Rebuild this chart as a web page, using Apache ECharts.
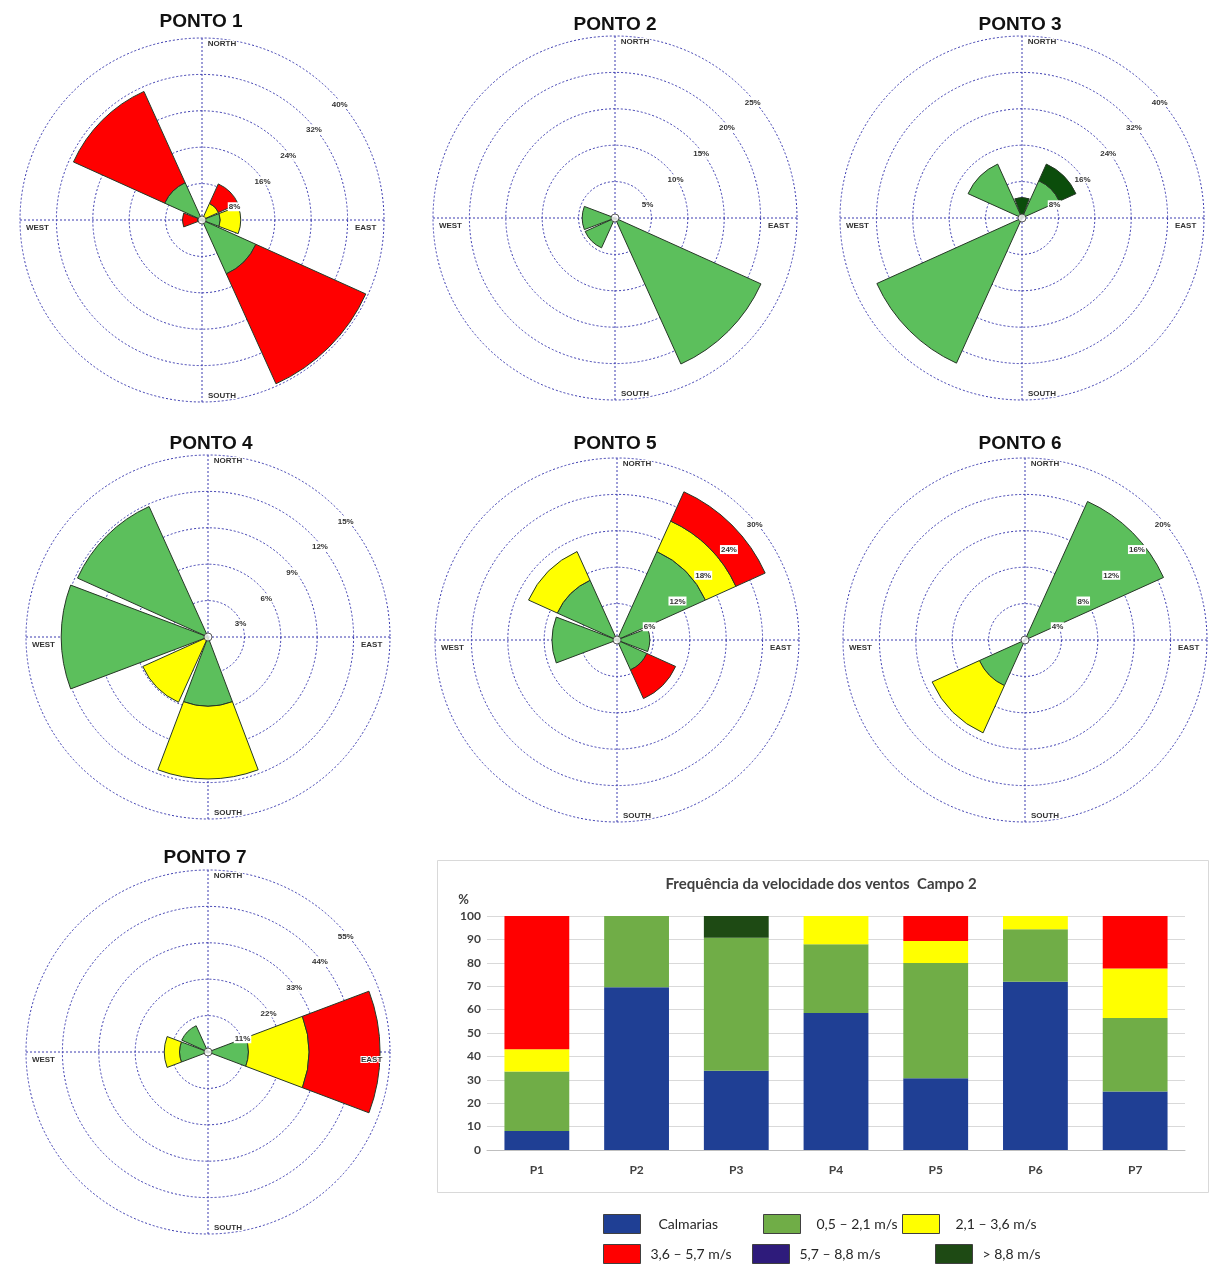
<!DOCTYPE html>
<html>
<head>
<meta charset="utf-8">
<script src="https://cdn.jsdelivr.net/npm/echarts@6/dist/echarts.min.js"></script>
<style>
  html, body { margin: 0; padding: 0; background: #fff; }
  #chart { width: 1214px; height: 1269px; }
</style>
</head>
<body>
<div id="chart"></div>
<script>
// wind directions, clockwise from north
const directions = ['N', 'NE', 'E', 'SE', 'S', 'SW', 'W', 'NW']

// rose values (% of time) per direction, one array per speed class
const p1Green = [0, 0, 4, 13, 0, 0, 1, 9]
const p1Yellow = [0, 4, 4.5, 0, 0, 0, 0, 0]
const p1Red = [0, 4.7, 0, 26.5, 0, 0, 3.3, 22]

const p2Green = [0, 0, 0, 22, 0, 4.5, 4.5, 0]

const p3Green = [0, 9, 0, 0, 0, 35, 0, 13]
const p3DarkGreen = [4.5, 4, 0, 0, 0, 0, 0, 0]

const p4Green = [0, 0, 0, 0, 5.7, 0, 12.1, 11.8]
const p4Yellow = [0, 0, 0, 0, 6, 5.9, 0, 0]

const p5Green = [0, 16, 5.4, 5.4, 0, 0, 10.7, 10.8]
const p5Yellow = [0, 5.5, 0, 0, 0, 0, 0, 5.2]
const p5Red = [0, 5.3, 0, 5.2, 0, 0, 0, 0]

const p6Green = [0, 16.7, 0, 0, 0, 5.5, 0, 0]
const p6Yellow = [0, 0, 0, 0, 0, 5.7, 0, 0]

const p7Green = [0, 0, 12.2, 0, 0, 0, 8.6, 8.7]
const p7Yellow = [0, 0, 18.3, 0, 0, 0, 4.6, 0]
const p7Red = [0, 0, 21.5, 0, 0, 0, 0, 0]

const roseTitles = ['PONTO 1', 'PONTO 2', 'PONTO 3', 'PONTO 4', 'PONTO 5', 'PONTO 6', 'PONTO 7']
const roseMax = [40, 25, 40, 15, 30, 20, 55]

// bar chart: frequency of each class per point
const points = ['P1', 'P2', 'P3', 'P4', 'P5', 'P6', 'P7']
const calmarias = [8.1, 69.6, 33.9, 58.6, 30.7, 71.9, 25]
const speed05 = [25.5, 30.4, 56.8, 29.3, 49.2, 22.4, 31.4]
const speed21 = [9.5, 0, 0, 12.1, 9.4, 5.7, 21.2]
const speed36 = [56.9, 0, 0, 0, 10.7, 0, 22.4]
const speed57 = [0, 0, 0, 0, 0, 0, 0]
const speed88 = [0, 0, 9.3, 0, 0, 0, 0]
const classNames = ['Calmarias', '0,5 – 2,1 m/s', '2,1 – 3,6 m/s', '3,6 – 5,7 m/s', '5,7 – 8,8 m/s', '> 8,8 m/s']

// rose classes: green, yellow, red, purple, dark green
const roseData = [
	[p1Green, p1Yellow, p1Red, null, null],
	[p2Green, null, null, null, null],
	[p3Green, null, null, null, p3DarkGreen],
	[p4Green, p4Yellow, null, null, null],
	[p5Green, p5Yellow, p5Red, null, null],
	[p6Green, p6Yellow, null, null, null],
	[p7Green, p7Yellow, p7Red, null, null],
]

const roseColors = ['#5CBF5C', '#FFFF00', '#FF0000', '#2E1B7B', '#0B4D0B']
const barColors = ['#1F3F94', '#70AD47', '#FFFF00', '#FF0000', '#2E1B7B', '#1E4A14']

// layout
const ROSE_R = 182
const roseCenters = [[202, 220], [615, 218], [1022, 218], [208, 637], [617, 640], [1025, 640], [208, 1052]]
const titleSpots = [[201, 22], [615, 25], [1020, 25], [211, 444], [615, 444], [1020, 444], [205, 858]]
const legendSpots = [[603, 1214, 13], [763, 1214, 11], [902, 1214, 11], [603, 1244, 5], [752, 1244, 5], [935, 1244, 5]]

const gridLine = { color: '#3b3bb0', width: 1, type: [2, 2] }
const noLine = { show: false, lineStyle: { color: 'rgba(0,0,0,0)' } }
const smallFont = { fontSize: 8, fontWeight: 'bold', fontFamily: 'Liberation Sans', color: '#333' }
const halo = { textBorderColor: '#fff', textBorderWidth: 2 }

const dirLabel = { 45: '{e|EAST}', 135: '{s|SOUTH}', 225: '{w|WEST}', 315: '{n|NORTH}' }
const dirRich = {
	n: { ...smallFont, ...halo, padding: [0, 0, 19, 40] },
	s: { ...smallFont, ...halo, padding: [19, 0, 0, 40] },
	e: { ...smallFont, ...halo, padding: [16, 0, 0, 0] },
	w: { ...smallFont, ...halo, padding: [16, 0, 0, 0] },
}

function hiddenParts() {
	return {
		axisLine: noLine,
		axisTick: noLine,
		splitLine: noLine,
		minorTick: { show: false },
		minorSplitLine: { show: false },
		splitArea: { show: false },
	}
}

const polar = []
const angleAxis = []
const radiusAxis = []
const series = []
const graphic = []
const n = roseCenters.length

// polar 0..6: sectors and rings
roseCenters.forEach((c, i) => {
	polar.push({ center: c, radius: ROSE_R })
	angleAxis.push({
		...hiddenParts(),
		polarIndex: i,
		type: 'category',
		data: directions,
		boundaryGap: true,
		startAngle: 112.5,
		axisLabel: { show: false },
		z: 0,
	})
	radiusAxis.push({
		...hiddenParts(),
		polarIndex: i,
		type: 'value',
		min: 0,
		max: roseMax[i],
		interval: roseMax[i] / 5,
		axisLabel: { show: false },
		splitLine: { show: true, lineStyle: gridLine },
		z: 0,
	})
})

// polar 7..13: north-south / east-west cross under the sectors
roseCenters.forEach((c, i) => {
	polar.push({ center: c, radius: ROSE_R })
	angleAxis.push({
		...hiddenParts(),
		polarIndex: n + i,
		type: 'value',
		min: 0,
		max: 360,
		interval: 90,
		startAngle: 90,
		axisLabel: { show: false },
		splitLine: { show: true, lineStyle: gridLine },
		z: 0,
	})
	radiusAxis.push({
		...hiddenParts(),
		polarIndex: n + i,
		type: 'value',
		min: 0,
		max: roseMax[i],
		axisLabel: { show: false },
		z: 0,
	})
})

// polar 14..20: labels above the sectors
roseCenters.forEach((c, i) => {
	const idx = 2 * n + i
	polar.push({ center: c, radius: ROSE_R })
	angleAxis.push({
		...hiddenParts(),
		polarIndex: idx,
		type: 'value',
		min: 0,
		max: 360,
		interval: 45,
		startAngle: 45,
		axisLabel: {
			margin: -29,
			formatter: (v) => dirLabel[v] || '',
			rich: dirRich,
		},
		z: 10,
	})
	radiusAxis.push({
		...hiddenParts(),
		polarIndex: idx,
		type: 'value',
		min: 0,
		max: roseMax[i],
		interval: roseMax[i] / 5,
		axisLabel: {
			showMinLabel: false,
			margin: 0,
			align: 'left',
			verticalAlign: 'top',
			padding: [8, 0, 0, 0],
			formatter: (v) => '{a|' + v + '%}',
			rich: { a: { ...smallFont, backgroundColor: '#fff', padding: [1, 1, 0, 1] } },
		},
		z: 10,
	})
})

roseData.forEach((classes, i) => {
	classes.forEach((values, k) => {
		if (!values) return
		series.push({
			type: 'bar',
			name: 'rose' + i + '-' + k,
			coordinateSystem: 'polar',
			polarIndex: i,
			stack: 'rose' + i,
			barCategoryGap: '8%',
			data: values.map((v) => (v > 0 ? v : '-')),
			itemStyle: { color: roseColors[k], borderColor: '#263826', borderWidth: 1 },
			silent: true,
			z: 2,
		})
	})
	series.push({
		type: 'scatter',
		name: 'centro' + i,
		coordinateSystem: 'polar',
		polarIndex: i,
		data: [[0, 'N']],
		symbolSize: 8,
		itemStyle: { color: '#fff', borderColor: '#333', borderWidth: 1 },
		silent: true,
		z: 5,
	})
	graphic.push({
		type: 'text',
		x: titleSpots[i][0],
		y: titleSpots[i][1],
		style: {
			text: roseTitles[i],
			font: 'bold 19px "Liberation Sans"',
			fill: '#111',
			align: 'center',
			verticalAlign: 'middle',
		},
	})
})

// bar chart frame and title
graphic.push({
	type: 'rect',
	shape: { x: 437.5, y: 860.5, width: 771, height: 332 },
	style: { fill: 'none', stroke: '#d9d9d9', lineWidth: 1 },
	z: -1,
})
graphic.push({
	type: 'text',
	x: 821,
	y: 884,
	style: {
		text: 'Frequência da velocidade dos ventos  Campo 2',
		font: 'bold 15px Lato',
		fill: '#404040',
		align: 'center',
		verticalAlign: 'middle',
	},
})

const barValues = [calmarias, speed05, speed21, speed36, speed57, speed88]
barValues.forEach((values, k) => {
	series.push({
		type: 'bar',
		name: classNames[k],
		stack: 'total',
		xAxisIndex: 0,
		yAxisIndex: 0,
		barCategoryGap: '35%',
		data: values,
		itemStyle: { color: barColors[k] },
		silent: true,
	})
})

const legend = classNames.map((name, k) => ({
	data: [name],
	left: legendSpots[k][0],
	top: legendSpots[k][1],
	padding: 0,
	itemWidth: 37,
	itemHeight: 19,
	icon: 'rect',
	selectedMode: false,
	itemStyle: { borderColor: '#404040', borderWidth: 1 },
	textStyle: {
		fontFamily: 'Lato',
		fontSize: 14,
		color: '#262626',
		padding: [0, 0, 0, legendSpots[k][2]],
	},
}))

const option = {
	animation: false,
	backgroundColor: '#fff',
	textStyle: { fontFamily: 'Liberation Sans' },
	polar: polar,
	angleAxis: angleAxis,
	radiusAxis: radiusAxis,
	grid: { left: 487, top: 916, width: 698, height: 234, outerBoundsMode: 'none' },
	xAxis: {
		type: 'category',
		data: points,
		axisLine: { lineStyle: { color: '#bfbfbf' } },
		axisTick: { show: false },
		axisLabel: { color: '#404040', fontWeight: 'bold', fontSize: 12, fontFamily: 'Lato', margin: 14 },
	},
	yAxis: {
		type: 'value',
		min: 0,
		max: 100,
		interval: 10,
		name: '%',
		nameLocation: 'end',
		nameGap: 10,
		nameTextStyle: { color: '#404040', fontWeight: 'bold', fontSize: 13, fontFamily: 'Lato', align: 'right', padding: [0, 18, 0, 0] },
		axisLine: { show: false },
		axisTick: { show: false },
		axisLabel: { color: '#404040', fontWeight: 'bold', fontSize: 12, fontFamily: 'Lato', margin: 6 },
		splitLine: { lineStyle: { color: '#d9d9d9' } },
	},
	legend: legend,
	graphic: graphic,
	series: series,
}

const chart = echarts.init(document.getElementById('chart'), null, { renderer: 'canvas' })
chart.setOption(option)
</script>
</body>
</html>
